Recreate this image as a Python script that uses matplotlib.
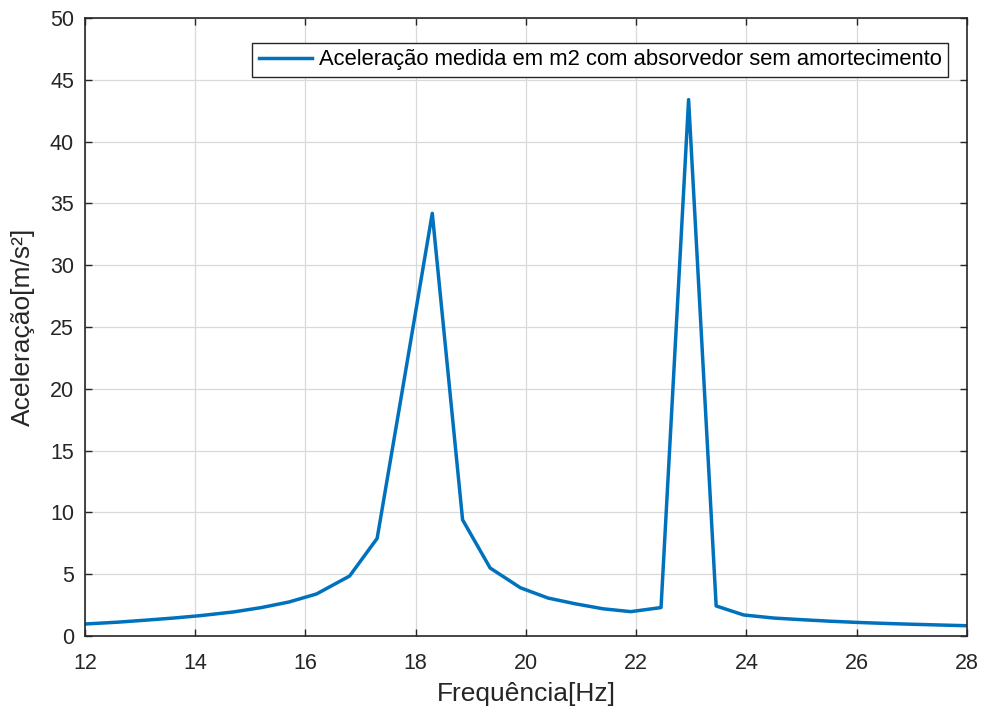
import matplotlib
matplotlib.use("Agg")
import matplotlib.pyplot as plt

# frequency points [Hz] and measured acceleration [m/s^2]
freq = [12.0, 12.6, 13.1, 13.6, 14.1, 14.7, 15.2, 15.7, 16.2, 16.8,
        17.3, 17.8, 18.3, 18.85, 19.35, 19.9, 20.4, 20.9, 21.4, 21.9,
        22.45, 22.95, 23.45, 23.95, 24.5, 25.0, 25.5, 26.0, 26.5, 27.0,
        27.5, 28.0]
accel = [0.97, 1.12, 1.28, 1.45, 1.65, 1.95, 2.3, 2.75, 3.4, 4.85,
         7.9, 21.0, 34.2, 9.4, 5.5, 3.9, 3.07, 2.6, 2.2, 1.97,
         2.3, 43.4, 2.43, 1.7, 1.45, 1.32, 1.2, 1.1, 1.02, 0.95,
         0.89, 0.83]

xticks = list(range(12, 29, 2))
yticks = list(range(0, 51, 5))
label = "Aceleração medida em m2 com absorvedor sem amortecimento"

plt.rcParams["font.family"] = ["Liberation Sans", "DejaVu Sans"]
dark = "#262626"

fig = plt.figure(figsize=(9.86, 7.15), dpi=100)
ax = fig.add_axes([0.0862, 0.1105, 0.8945, 0.8643])

ax.plot(freq, accel, color="#0072BD", linewidth=2.5, label=label)

ax.set_xlim(12, 28)
ax.set_ylim(0, 50)
ax.set_xticks(xticks)
ax.set_yticks(yticks)
ax.grid(True, color="#d9d9d9", linewidth=0.9)
ax.set_axisbelow(True)
ax.tick_params(direction="in", top=True, right=True, length=5, width=1,
               colors=dark, labelsize=15.5, pad=8)
ax.tick_params(axis="x", pad=12)
for s in ax.spines.values():
    s.set_color(dark)
    s.set_linewidth(1.2)

ax.set_xlabel("Frequência[Hz]", fontsize=19, color=dark, labelpad=6)
ax.set_ylabel("Aceleração[m/s²]", fontsize=19, color=dark, labelpad=11)

leg = ax.legend(loc="upper right", bbox_to_anchor=(0.979, 0.96), fontsize=15.8,
                handlelength=2.45, handletextpad=0.3, borderpad=0.3,
                borderaxespad=0, fancybox=False, framealpha=1, edgecolor=dark)
leg.get_frame().set_linewidth(1.0)

fig.savefig("out.png", dpi=100)
